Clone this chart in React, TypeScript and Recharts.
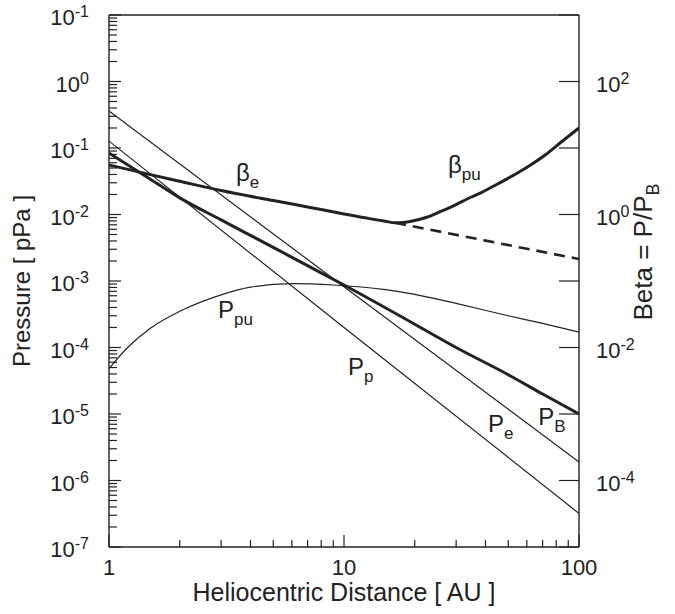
import React from "react";
import { LineChart, Line, XAxis, YAxis, ReferenceLine, ReferenceDot } from "recharts";

const FONT = "'Liberation Sans', Arial, Helvetica, sans-serif";
const INK = "#222";

// heliocentric distance [AU] vs pressure [pPa]
const peDist = [1, 10, 100];
const peVals = [0.36, 8.2e-4, 1.9e-6];

const ppDist = [1, 10, 100];
const ppVals = [0.127, 2.0e-4, 3.2e-7];

const pbDist = [1, 1.5, 2, 3, 5, 7, 10, 20, 30, 50, 70, 100];
const pbVals = [0.084, 0.034, 0.0178, 0.0083, 0.0032, 0.0017, 8.7e-4, 2.24e-4, 1.0e-4, 3.9e-5, 2.0e-5, 1.0e-5];

const ppuDist = [1, 1.2, 1.5, 2, 3, 4, 6, 9, 15, 20, 30, 50, 70, 100];
const ppuVals = [4.8e-5, 1.0e-4, 1.95e-4, 3.5e-4, 6.2e-4, 8.1e-4, 9.1e-4, 8.7e-4, 7.4e-4, 6.3e-4, 4.6e-4, 3.0e-4, 2.3e-4, 1.7e-4];

// beta (right axis): total, and electron-only continuation (dashed)
const betaDist = [1, 1.5, 2, 3, 5, 7, 10, 13, 15, 16.5, 18, 20, 22.5, 25.6, 30, 33.4, 38, 45, 54.5, 62, 72, 83, 100];
const betaVals = [5.55, 3.98, 3.16, 2.29, 1.62, 1.3, 1.02, 0.86, 0.79, 0.75, 0.76, 0.81, 0.91, 1.1, 1.41, 1.71, 2.09, 2.88, 4.17, 5.5, 7.9, 11.9, 20];

const betaEDist = [16.5, 40, 100];
const betaEVals = [0.75, 0.405, 0.214];

// axis ticks
const xDecades = [0, 1, 2];
const pDecades = [-7, -6, -5, -4, -3, -2, -1, 0, 1];
const betaDecades = [-5, -4, -3, -2, -1, 0, 1, 2, 3];
const minorSteps = [2, 3, 4, 5, 6, 7, 8, 9];
// left labels as printed (top one reads 10^-1 in the source)
const pTickLabels = ["-7", "-6", "-5", "-4", "-3", "-2", "-1", "0", "-1"];
const betaLabelExps = [2, 0, -2, -4];

// curve annotations (anchor in distance / pressure units)
const notes = [
  { main: "\u03b2", sub: "e", x: 3.47, y: 0.032 },
  { main: "\u03b2", sub: "pu", x: 27.7, y: 0.042 },
  { main: "P", sub: "pu", x: 2.91, y: 2.8e-4 },
  { main: "P", sub: "p", x: 10.4, y: 3.9e-5 },
  { main: "P", sub: "e", x: 41, y: 5.4e-6 },
  { main: "P", sub: "B", x: 67, y: 6.8e-6 },
];

const rows = (xs: number[], ys: number[]) => xs.map((x, i) => ({ x, v: ys[i] }));

const withMinors = (decades: number[]) => {
  const out: number[] = [];
  decades.forEach((d, i) => {
    out.push(Math.pow(10, d));
    if (i < decades.length - 1) minorSteps.forEach((k) => out.push(k * Math.pow(10, d)));
  });
  return out;
};

const expOf = (v: number) => {
  const l = Math.log10(v);
  return Math.abs(l - Math.round(l)) < 1e-6 ? Math.round(l) : null;
};

const M_LEFT = 20;
const M_RIGHT = 17;
const M_BOTTOM = 28;

const Pow = ({ x, y, exp, anchor }: any) => (
  <text x={x} y={y} textAnchor={anchor} fontFamily={FONT} fontSize={22} fill={INK}>
    10
    <tspan dy={-8} fontSize={16}>{exp}</tspan>
  </text>
);

const LeftTick = (props: any) => {
  const { x, y, payload } = props;
  const e = expOf(payload.value);
  const ax = x + M_LEFT;
  return (
    <g>
      <line x1={ax} x2={ax + (e !== null ? 12 : 8)} y1={y} y2={y} stroke={INK} strokeWidth={1.2} />
      {e !== null && <Pow x={x} y={y + 10} exp={pTickLabels[e + 7]} anchor="end" />}
    </g>
  );
};

const RightTick = (props: any) => {
  const { x, y, payload } = props;
  const e = expOf(payload.value);
  const ax = x - M_RIGHT;
  return (
    <g>
      <line x1={ax - 20} x2={ax} y1={y} y2={y} stroke={INK} strokeWidth={1.2} />
      {e !== null && betaLabelExps.includes(e) && <Pow x={x} y={y + 10} exp={String(e)} anchor="start" />}
    </g>
  );
};

const BottomTick = (props: any) => {
  const { x, y, payload } = props;
  const e = expOf(payload.value);
  const ay = y - M_BOTTOM;
  return (
    <g>
      <line x1={x} x2={x} y1={ay} y2={ay - (e !== null ? 12 : 7)} stroke={INK} strokeWidth={1.2} />
      {e !== null && (
        <text x={x} y={y} textAnchor="middle" fontFamily={FONT} fontSize={22} fill={INK}>
          {payload.value}
        </text>
      )}
    </g>
  );
};

const PressureTitle = (props: any) => {
  const vb = props.viewBox;
  const cx = vb.x + 30;
  const cy = vb.y + vb.height / 2;
  return (
    <text x={cx} y={cy} transform={`rotate(-90 ${cx} ${cy})`} textAnchor="middle" fontFamily={FONT} fontSize={24} fill={INK}>
      Pressure [ pPa ]
    </text>
  );
};

const BetaTitle = (props: any) => {
  const vb = props.viewBox;
  const cx = vb.x + 73;
  const cy = vb.y + vb.height / 2 - 29;
  return (
    <text x={cx} y={cy} transform={`rotate(-90 ${cx} ${cy})`} textAnchor="middle" fontFamily={FONT} fontSize={26} fill={INK}>
      Beta = P/P<tspan dy={7} fontSize={18}>B</tspan>
    </text>
  );
};

const DistanceTitle = (props: any) => {
  const vb = props.viewBox;
  return (
    <text x={vb.x + vb.width / 2} y={vb.y + 54} textAnchor="middle" fontFamily={FONT} fontSize={25} fill={INK}>
      Heliocentric Distance [ AU ]
    </text>
  );
};

const Note = ({ cx, cy, main, sub }: any) => (
  <text x={cx} y={cy} fontFamily={FONT} fontSize={24} fill={INK}>
    {main}
    <tspan dy={7} fontSize={17}>{sub}</tspan>
  </text>
);

export default function App() {
  return (
    <div style={{ fontFamily: FONT, position: "absolute", left: 0, top: 0 }}>
      <LineChart width={675} height={614} margin={{ top: 15, right: 0, bottom: 0, left: 0 }}>
        <XAxis
          xAxisId="x"
          dataKey="x"
          type="number"
          scale="log"
          domain={[1, 100]}
          allowDataOverflow
          ticks={withMinors(xDecades)}
          interval={0}
          tick={<BottomTick />}
          tickLine={false}
          tickSize={0}
          tickMargin={M_BOTTOM}
          height={67}
          axisLine={{ stroke: INK, strokeWidth: 1.4 }}
          label={<DistanceTitle />}
        />
        <YAxis
          yAxisId="p"
          type="number"
          scale="log"
          domain={[1e-7, 10]}
          allowDataOverflow
          ticks={withMinors(pDecades)}
          interval={0}
          tick={<LeftTick />}
          tickLine={false}
          tickSize={0}
          tickMargin={M_LEFT}
          width={109}
          axisLine={{ stroke: INK, strokeWidth: 1.4 }}
          label={<PressureTitle />}
        />
        <YAxis
          yAxisId="beta"
          orientation="right"
          type="number"
          scale="log"
          domain={[1e-5, 1e3]}
          allowDataOverflow
          ticks={betaDecades.map((d) => Math.pow(10, d))}
          interval={0}
          tick={<RightTick />}
          tickLine={false}
          tickSize={0}
          tickMargin={M_RIGHT}
          width={96}
          axisLine={{ stroke: INK, strokeWidth: 1.4 }}
          label={<BetaTitle />}
        />
        <ReferenceLine xAxisId="x" yAxisId="p" y={10} stroke={INK} strokeWidth={1.4} />

        <Line xAxisId="x" yAxisId="p" data={rows(peDist, peVals)} dataKey="v" type="linear" stroke={INK} strokeWidth={1.2} dot={false} isAnimationActive={false} />
        <Line xAxisId="x" yAxisId="p" data={rows(ppDist, ppVals)} dataKey="v" type="linear" stroke={INK} strokeWidth={1.2} dot={false} isAnimationActive={false} />
        <Line xAxisId="x" yAxisId="p" data={rows(ppuDist, ppuVals)} dataKey="v" type="monotone" stroke={INK} strokeWidth={1.2} dot={false} isAnimationActive={false} />
        <Line xAxisId="x" yAxisId="p" data={rows(pbDist, pbVals)} dataKey="v" type="monotone" stroke={INK} strokeWidth={3} dot={false} isAnimationActive={false} />
        <Line xAxisId="x" yAxisId="beta" data={rows(betaDist, betaVals)} dataKey="v" type="monotone" stroke={INK} strokeWidth={3} dot={false} isAnimationActive={false} />
        <Line xAxisId="x" yAxisId="beta" data={rows(betaEDist, betaEVals)} dataKey="v" type="linear" stroke={INK} strokeWidth={2.6} strokeDasharray="11 7" dot={false} isAnimationActive={false} />

        {notes.map((n) => (
          <ReferenceDot
            key={n.main + n.sub}
            xAxisId="x"
            yAxisId="p"
            x={n.x}
            y={n.y}
            r={0}
            shape={(p: any) => <Note cx={p.cx} cy={p.cy} main={n.main} sub={n.sub} />}
          />
        ))}
      </LineChart>
    </div>
  );
}
